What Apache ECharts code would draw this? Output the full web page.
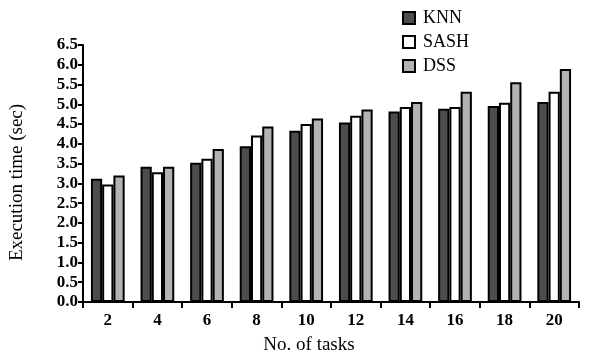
<!DOCTYPE html>
<html>
<head>
<meta charset="utf-8">
<script src="https://cdn.jsdelivr.net/npm/echarts@6/dist/echarts.min.js"></script>
<style>html,body{margin:0;padding:0;background:#fff;}#c{width:589px;height:360px;}</style>
</head>
<body>
<div id="c"></div>
<script>
var categories = ['2','4','6','8','10','12','14','16','18','20'];
var knn  = [3.12, 3.42, 3.52, 3.94, 4.33, 4.54, 4.82, 4.89, 4.96, 5.06];
var sash = [2.97, 3.28, 3.62, 4.21, 4.50, 4.71, 4.93, 4.93, 5.04, 5.32];
var dss  = [3.20, 3.42, 3.87, 4.44, 4.64, 4.87, 5.06, 5.32, 5.56, 5.89];
var seriesNames = ['KNN','SASH','DSS'];
var seriesColors = ['#4d4d4d','#ffffff','#b3b3b3'];
var yTicks = ['0.0','0.5','1.0','1.5','2.0','2.5','3.0','3.5','4.0','4.5','5.0','5.5','6.0','6.5'];

var chart = echarts.init(document.getElementById('c'), null, {renderer:'canvas'});
var font = 'Liberation Serif';
var data = [knn, sash, dss];
var series = seriesNames.map(function(n,i){
  return {
    name: n, type: 'bar', data: data[i],
    barGap: '0%', barCategoryGap: '32%',
    itemStyle: {color: seriesColors[i], borderColor: '#000', borderWidth: 2},
    emphasis: {disabled: true}
  };
});
chart.setOption({
  animation: false,
  backgroundColor: '#fff',
  grid: {left: 77, right: 10, top: 45, bottom: 55},
  legend: {
    orient: 'vertical', left: 397, top: 4, itemGap: 6,
    itemWidth: 12, itemHeight: 12, icon: 'rect',
    textStyle: {fontFamily: font, fontSize: 18, color: '#000', padding: [0,0,0,3]},
    data: seriesNames.map(function(n,i){
      return {name: n, itemStyle: {color: seriesColors[i], borderColor: '#000', borderWidth: 2}};
    })
  },
  xAxis: {
    type: 'category', data: categories,
    name: 'No. of tasks', nameLocation: 'middle', nameGap: 34,
    nameTextStyle: {fontFamily: font, fontSize: 19, color: '#000', padding: [0, 44, 0, 0]},
    axisLine: {lineStyle: {color: '#000', width: 2}},
    axisTick: {show: true, length: 6, lineStyle: {color: '#000', width: 2}, alignWithLabel: false},
    axisLabel: {fontFamily: font, fontSize: 17, fontWeight: 'bold', color: '#000', margin: 10}
  },
  yAxis: {
    type: 'value', min: 0, max: 6.5, interval: 0.5,
    name: 'Execution time (sec)', nameLocation: 'middle', nameGap: 56,
    nameTextStyle: {fontFamily: font, fontSize: 19, color: '#000', padding: [0, 18, 0, 0]},
    axisLine: {show: true, lineStyle: {color: '#000', width: 2}},
    axisTick: {show: true, length: 5, lineStyle: {color: '#000', width: 2}},
    splitLine: {show: false},
    axisLabel: {fontFamily: font, fontSize: 17, fontWeight: 'bold', color: '#000', margin: 5,
      formatter: function(v){ return yTicks[Math.round(v/0.5)]; }}
  },
  series: series
});
</script>
</body>
</html>
